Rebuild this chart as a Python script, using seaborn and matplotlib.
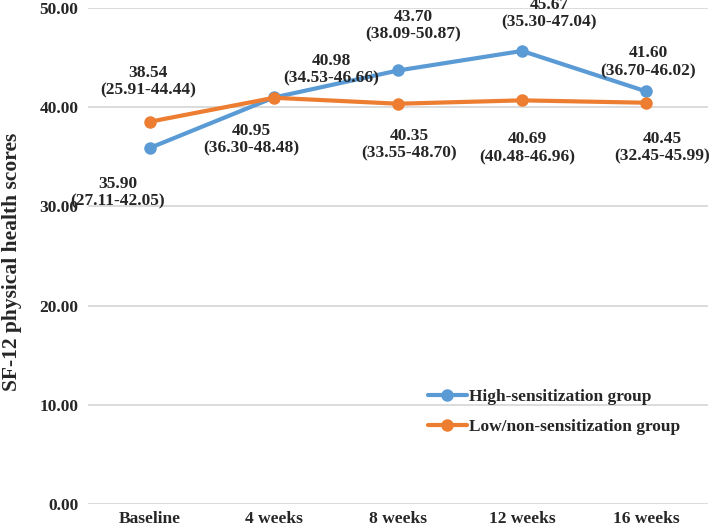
import matplotlib
matplotlib.use("Agg")
import matplotlib.pyplot as plt
import seaborn as sns
import pandas as pd

times = ["Baseline", "4 weeks", "8 weeks", "12 weeks", "16 weeks"]
groups = ["High-sensitization group", "Low/non-sensitization group"]
high_vals = [35.90, 40.98, 43.70, 45.67, 41.60]
high_ci = ["27.11-42.05", "34.53-46.66", "38.09-50.87", "35.30-47.04", "36.70-46.02"]
low_vals = [38.54, 40.95, 40.35, 40.69, 40.45]
low_ci = ["25.91-44.44", "36.30-48.48", "33.55-48.70", "40.48-46.96", "32.45-45.99"]

colors = ["#5B9BD5", "#ED7D31"]

df = pd.DataFrame({
    "time": times * 2,
    "score": high_vals + low_vals,
    "group": [groups[0]] * 5 + [groups[1]] * 5,
})

sns.set_theme(style="white")
plt.rcParams["font.family"] = ["Liberation Serif", "DejaVu Serif"]
plt.rcParams["font.weight"] = "bold"

FS = 12.5

fig = plt.figure(figsize=(7.09, 5.29), dpi=100)
ax = fig.add_axes([88 / 709, 1 - 504 / 529, 620 / 709, 496 / 529])

sns.lineplot(data=df, x="time", y="score", hue="group", palette=colors,
             marker="o", markersize=9, markeredgewidth=0, linewidth=3,
             sort=False, ax=ax, zorder=3)

ax.set_xlim(-0.5, 4.5)
ax.set_ylim(0, 50)
ax.set_yticks([0, 10, 20, 30, 40, 50])
ax.set_yticklabels([f"{v:.2f}" for v in [0, 10, 20, 30, 40, 50]])
ax.yaxis.grid(True, color="#d9d9d9", linewidth=1.3)
ax.xaxis.grid(False)
for s in ax.spines.values():
    s.set_visible(False)
ax.tick_params(axis="both", length=0, labelsize=FS)
ax.tick_params(axis="y", pad=7)
ax.tick_params(axis="x", pad=5)
for lab in ax.get_xticklabels() + ax.get_yticklabels():
    lab.set_fontweight("bold")
ax.set_xlabel("")
ax.set_ylabel("SF-12 physical health scores", fontsize=15.5, fontweight="bold")
ax.yaxis.set_label_coords(-0.107, 0.488)

high_off = [(-32, -45), (57, 28), (15, 45), (27, 37), (2, 29)]
low_off = [(-2, 40), (-23, -42), (11, -41), (5, -48), (16, -45)]
for i, t in enumerate(times):
    ax.annotate(f"{high_vals[i]:.2f}\n({high_ci[i]})", (i, high_vals[i]),
                xytext=high_off[i], textcoords="offset pixels",
                ha="center", va="center", fontsize=FS, fontweight="bold",
                linespacing=1.15, annotation_clip=False)
    ax.annotate(f"{low_vals[i]:.2f}\n({low_ci[i]})", (i, low_vals[i]),
                xytext=low_off[i], textcoords="offset pixels",
                ha="center", va="center", fontsize=FS, fontweight="bold",
                linespacing=1.15, annotation_clip=False)

leg = ax.legend(loc="upper left", bbox_to_anchor=(412 / 709, 1 - 373 / 529),
                bbox_transform=fig.transFigure, frameon=False,
                handlelength=2.25, handletextpad=0.15, labelspacing=0.8,
                prop={"size": FS, "weight": "bold"})

fig.savefig("out.png", dpi=100)
